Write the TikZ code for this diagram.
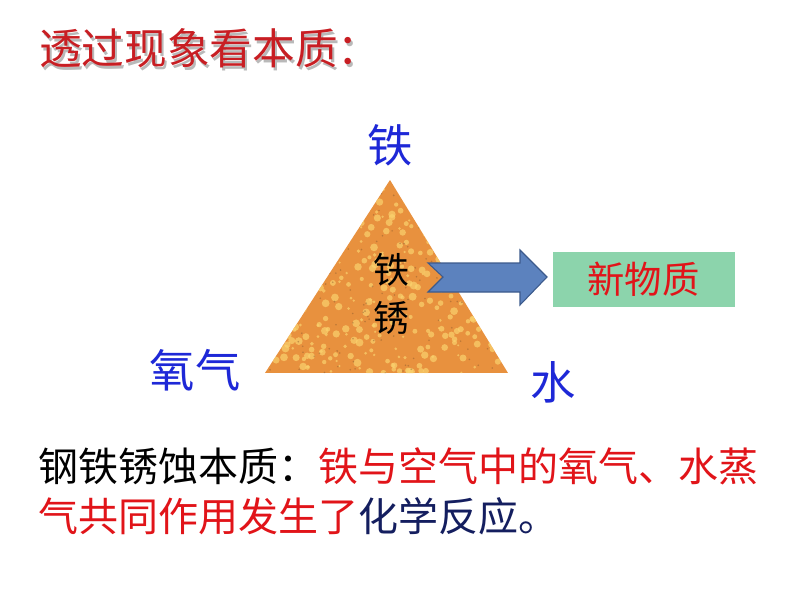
\documentclass[tikz,border=0pt]{standalone}
\usepackage{fontspec}
\newfontfamily\cjk{Noto Sans CJK SC}
\definecolor{titlered}{RGB}{200,30,35}
\definecolor{labelblue}{RGB}{30,40,215}
\definecolor{textred}{RGB}{225,20,25}
\definecolor{navy}{RGB}{20,30,95}
\definecolor{rustorange}{RGB}{232,145,62}
\definecolor{rustyellow}{RGB}{250,210,110}
\definecolor{arrowblue}{RGB}{92,130,190}
\definecolor{arrowedge}{RGB}{60,90,140}
\definecolor{boxgreen}{RGB}{140,212,172}
\newcommand{\shadowtext}[1]{\makebox[0pt][l]{\hspace{1.5pt}\raisebox{-1.9pt}{\textcolor{gray!55}{#1}}}#1}

\begin{document}
\begin{tikzpicture}[x=0.75pt,y=0.75pt,yscale=-1,xscale=1]
\tikzset{
  cjktext/.style={inner sep=0.75pt,font=\cjk},
  cornerlabel/.style={cjktext,text=labelblue,font=\cjk\fontsize{34}{40}\selectfont}
}
\useasboundingbox (0,0) rectangle (794,596);

% Text Node (title with shadow)
\node (title) [cjktext,text=titlered,anchor=west,font=\cjk\fontsize{32}{36}\selectfont] at (38,50) {\shadowtext{透过现象看本质：}};

%Shape: Triangle
\begin{scope}
\clip (390,180) -- (508,373) -- (265,373) -- cycle;
\fill [rustorange] (265,180) rectangle (508,373);
\pgfmathsetseed{7}
\foreach \i in {1,...,420}{
  \pgfmathsetmacro{\px}{265+243*rnd}
  \pgfmathsetmacro{\py}{180+193*rnd}
  \pgfmathsetmacro{\pr}{1+3*rnd}
  \fill [rustyellow,opacity=0.7] (\px,\py) circle (\pr);
}
\foreach \i in {1,...,160}{
  \pgfmathsetmacro{\px}{265+243*rnd}
  \pgfmathsetmacro{\py}{180+193*rnd}
  \fill [brown!70!black,opacity=0.45] (\px,\py) circle (0.9);
}
\end{scope}

% Text Node
\node (tie) [cornerlabel] at (390,145) {铁};
% Text Node
\node (yangqi) [cornerlabel] at (195,370) {氧气};
% Text Node
\node (shui) [cornerlabel] at (553,382) {水};
% Text Node
\node (tiexiu) [cjktext,align=center,font=\cjk\fontsize{27}{36}\selectfont] at (391,294) {铁\\锈};

%Shape: Notched Right Arrow
\draw [arrowedge,fill=arrowblue,line width=0.8] (428,263) -- (520,263) -- (520,250) -- (547,277) -- (520,305) -- (520,292) -- (428,292) -- (443,277) -- cycle;

%Shape: Rectangle
\node (xinwuzhi) [cjktext,fill=boxgreen,text=textred,minimum width=136.5pt,minimum height=41pt,font=\cjk\fontsize{28}{32}\selectfont] at (643.5,279.5) {新物质};

% Text Node
\node (line1) [cjktext,anchor=west,font=\cjk\fontsize{30}{36}\selectfont] at (37,466) {钢铁锈蚀本质：\textcolor{textred}{铁与空气中的氧气、水蒸}};
% Text Node
\node (line2) [cjktext,anchor=west,font=\cjk\fontsize{30}{36}\selectfont] at (37,516) {\textcolor{textred}{气共同作用发生了}\textcolor{navy}{化学反应。}};

\end{tikzpicture}
\end{document}
